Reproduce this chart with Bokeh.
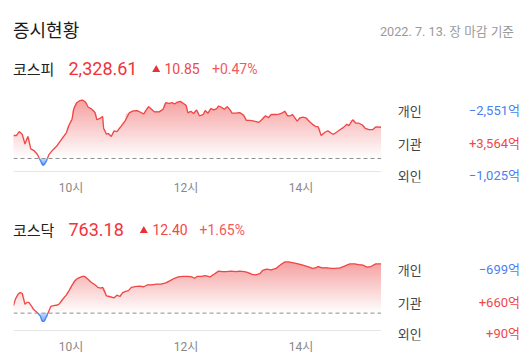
import numpy as np
from bokeh.plotting import figure
from bokeh.layouts import column, row
from bokeh.models import Range1d, FixedTicker, Span
from bokeh.core.properties import value
from bokeh.embed import file_html
from bokeh.resources import INLINE

# ---------------- data ----------------
title_text = "증시현황"
date_text = "2022. 7. 13. 장 마감 기준"
tick_minutes = [60, 180, 300]          # minutes after 09:00
tick_labels = ["10시", "12시", "14시"]
investors = ["개인", "기관", "외인"]

kospi_name = "코스피"
kospi_close = 2328.61
kospi_change = 10.85
kospi_pct = 0.47
kospi_prev = 2317.76
kospi_axis = [2313.19, 2340.36]
kospi_flows = [-2551, 3564, -1025]     # 억원
kospi_minutes = [0, 3, 6, 9, 12, 15, 18, 21, 25, 28,
                 31, 34, 37, 41, 45, 49, 53, 55, 58, 61,
                 63, 66, 69, 72, 75, 78, 81, 85, 87, 90,
                 93, 94, 97, 99, 102, 105, 108, 112, 116, 121,
                 125, 129, 133, 136, 138, 141, 144, 147, 152, 156,
                 159, 162, 166, 168, 171, 174, 177, 180, 182, 185,
                 188, 191, 194, 198, 200, 203, 206, 209, 212, 214,
                 217, 220, 223, 226, 228, 232, 236, 240, 243, 247,
                 251, 256, 259, 263, 266, 269, 273, 277, 280, 283,
                 286, 289, 291, 293, 296, 299, 302, 305, 309, 312,
                 315, 318, 321, 325, 328, 332, 334, 337, 341, 344,
                 348, 350, 354, 357, 360, 364, 367, 371, 375, 378,
                 384]
kospi_values = [2325.75, 2325.75, 2327.12, 2326.21, 2322.78, 2325.41, 2321.07, 2320.61, 2319.13, 2317.08,
                2315.36, 2316.62, 2319.13, 2320.73, 2321.98, 2323.92, 2325.75, 2326.55, 2329.40, 2331.34,
                2335.11, 2337.17, 2337.85, 2338.08, 2337.39, 2335.57, 2335.11, 2333.74, 2331.23, 2331.69,
                2332.37, 2328.26, 2326.21, 2326.44, 2325.41, 2327.35, 2327.12, 2328.83, 2330.55, 2333.74,
                2334.31, 2334.43, 2333.74, 2333.29, 2334.43, 2335.80, 2334.88, 2333.97, 2333.97, 2334.88,
                2337.17, 2336.94, 2337.17, 2336.71, 2337.39, 2337.62, 2336.94, 2336.25, 2333.63, 2334.20,
                2333.40, 2334.65, 2332.60, 2333.06, 2334.43, 2333.51, 2335.11, 2334.65, 2335.11, 2336.02,
                2335.57, 2334.88, 2335.80, 2334.65, 2333.51, 2333.51, 2333.74, 2332.83, 2331.00, 2331.00,
                2330.77, 2330.32, 2331.23, 2332.60, 2331.92, 2333.06, 2333.06, 2333.17, 2333.51, 2334.20,
                2332.60, 2332.60, 2333.06, 2332.14, 2330.77, 2331.92, 2332.14, 2331.92, 2330.55, 2329.63,
                2328.95, 2328.72, 2325.75, 2326.89, 2327.35, 2326.44, 2326.21, 2326.89, 2327.81, 2328.49,
                2329.63, 2329.18, 2331.23, 2330.09, 2330.09, 2329.40, 2328.26, 2327.81, 2327.81, 2328.72,
                2328.61]

kosdaq_name = "코스닥"
kosdaq_close = 763.18
kosdaq_change = 12.40
kosdaq_pct = 1.65
kosdaq_prev = 750.78
kosdaq_axis = [746.35, 765.80]
kosdaq_flows = [-699, 660, 90]
kosdaq_minutes = [0, 2, 5, 7, 9, 12, 14, 16, 19, 21,
                  25, 28, 30, 32, 34, 37, 39, 42, 46, 48,
                  51, 55, 58, 61, 64, 67, 72, 74, 78, 81,
                  85, 88, 91, 93, 97, 100, 105, 108, 111, 114,
                  117, 120, 123, 127, 131, 136, 140, 144, 149, 154,
                  159, 163, 168, 172, 177, 182, 186, 189, 192, 196,
                  200, 205, 210, 214, 218, 222, 227, 232, 236, 241,
                  244, 249, 253, 257, 260, 264, 269, 274, 278, 283,
                  287, 291, 297, 302, 307, 312, 315, 318, 322, 327,
                  332, 336, 341, 346, 351, 356, 360, 365, 369, 373,
                  378, 382, 384]
kosdaq_values = [752.67, 754.31, 755.62, 755.95, 755.79, 753.00, 753.49, 753.49, 752.50, 751.68,
                 750.86, 750.04, 748.73, 748.73, 749.71, 751.35, 752.50, 752.67, 752.83, 753.16,
                 754.15, 755.30, 756.45, 757.76, 758.91, 759.56, 760.06, 760.06, 759.24, 758.58,
                 757.92, 757.27, 757.10, 757.27, 755.13, 754.97, 754.64, 755.30, 754.97, 755.95,
                 756.28, 756.45, 757.27, 757.43, 757.59, 757.43, 757.92, 757.92, 758.09, 758.09,
                 758.42, 758.91, 759.56, 759.89, 760.06, 760.06, 759.89, 759.56, 760.06, 760.06,
                 760.22, 759.89, 760.71, 761.37, 761.21, 761.21, 761.37, 761.21, 761.37, 761.21,
                 761.04, 760.55, 760.39, 760.71, 761.54, 761.86, 761.70, 762.03, 762.85, 763.67,
                 763.67, 763.51, 763.18, 762.85, 762.52, 762.03, 762.19, 762.52, 762.19, 762.19,
                 762.03, 762.03, 762.19, 762.68, 763.18, 763.18, 763.01, 762.85, 762.36, 762.52,
                 763.18, 763.18, 763.18]

# ---------------- style ----------------
KR = "'Noto Sans CJK KR'"
NUM = "Roboto, 'Noto Sans CJK KR'"
RED = "#f2333b"
RED2 = "#f04848"
RED3 = "#f25a5a"
BLUE = "#4a7ff2"
DARK = "#222222"
LINE_RED = "#f04646"
LINE_BLUE = "#4a86f0"
W = 529
CHART_W = 381
PANEL_W = W - CHART_W
X_MAX = 384
GRID_H = 79          # pixels between the two horizontal grid lines


def text_fig(w, h, bottom=0):
    p = figure(width=w, height=h, x_range=Range1d(0, w), y_range=Range1d(h - bottom, 0),
               output_backend="svg", toolbar_location=None, min_border=0,
               min_border_bottom=bottom, x_axis_location=None, y_axis_location=None)
    p.grid.visible = False
    p.outline_line_color = None
    return p


def txt(p, x, y, s, size, color, font=NUM, align="left", style="normal"):
    p.text(x=[x], y=[y], text=[s], text_font=value(font), text_font_size=f"{size}px",
           text_color=color, text_align=align, text_baseline="middle", text_font_style=style)


def fmt_flow(v):
    sign = "+" if v > 0 else "\u2212"
    return f"{sign}{abs(v):,}억"


def header_fig(h, y, name, close, change, pct, tri_x, chg_x, pct_x, with_title=False):
    p = text_fig(W, h)
    if with_title:
        txt(p, 12.5, 28.5, title_text, 18, "#1a1a1a", font=KR)
        txt(p, 513.5, 31, date_text, 12.7, "#9a9a9a", align="right")
    txt(p, 12.5, y, name, 15, DARK, font=KR)
    txt(p, 68, y + 0.5, f"{close:,.2f}", 18, RED)
    p.scatter(x=[tri_x], y=[y + 1.5], marker="triangle",
              size=8, color="#e83232", line_color=None)
    txt(p, chg_x, y + 0.5, f"{change:.2f}", 14, RED2)
    txt(p, pct_x, y + 0.5, f"+{pct:.2f}%", 14, RED3)
    return p


def chart_fig(h, frame_h, minutes, values, prev, axis, standoff):
    lo, hi = axis
    extra = (frame_h - GRID_H) * (hi - lo) / GRID_H   # empty strip under the bottom grid line
    p = figure(width=CHART_W, height=h, x_range=Range1d(0, X_MAX),
               y_range=Range1d(lo - extra, hi),
               output_backend="svg", toolbar_location=None,
               min_border_left=13, min_border_right=0, min_border_top=0,
               min_border_bottom=h - frame_h, y_axis_location=None)
    p.outline_line_color = None
    p.xgrid.visible = False
    p.ygrid.ticker = FixedTicker(ticks=[lo, hi])
    p.ygrid.grid_line_color = "#e6e6e6"
    ax = p.xaxis[0]
    ax.ticker = FixedTicker(ticks=tick_minutes)
    ax.major_label_overrides = {m: l for m, l in zip(tick_minutes, tick_labels)}
    ax.axis_line_color = None
    ax.major_tick_line_color = None
    ax.minor_tick_line_color = None
    ax.major_tick_out = 0
    ax.major_tick_in = 0
    ax.major_label_standoff = standoff
    ax.major_label_text_font = NUM
    ax.major_label_text_font_size = "12px"
    ax.major_label_text_color = "#888888"

    x = np.asarray(minutes, dtype=float)
    v = np.asarray(values, dtype=float)
    # insert the crossings of the previous close so the colours switch exactly there
    xs, ys = [x[0]], [v[0]]
    for i in range(len(x) - 1):
        d0, d1 = v[i] - prev, v[i + 1] - prev
        if d0 * d1 < 0:
            t = d0 / (d0 - d1)
            xs.append(x[i] + t * (x[i + 1] - x[i]))
            ys.append(prev)
        xs.append(x[i + 1])
        ys.append(v[i + 1])
    xs = np.array(xs)
    ys = np.array(ys)
    up = np.maximum(ys, prev)
    dn = np.minimum(ys, prev)

    # red gradient fill (white at the previous close -> pink at the top)
    vmax = ys.max()
    n = 28
    top = np.array([245, 160, 160])
    for k in range(n):
        a = prev + k * (vmax - prev) / n
        f = (k + 0.5) / n
        c = np.round(255 + (top - 255) * f).astype(int)
        p.varea(x=xs, y1=np.full_like(xs, a), y2=np.maximum(up, a),
                fill_color="#%02x%02x%02x" % tuple(c))
    # blue gradient fill below the previous close
    vmin = ys.min()
    m = 8
    b0 = np.array([200, 218, 252])
    b1 = np.array([120, 164, 245])
    for k in range(m):
        b = prev - k * (prev - vmin) / m
        f = (k + 0.5) / m
        c = np.round(b0 + (b1 - b0) * f).astype(int)
        p.varea(x=xs, y1=np.minimum(dn, b), y2=np.full_like(xs, b),
                fill_color="#%02x%02x%02x" % tuple(c))

    p.add_layout(Span(location=prev, dimension="width", line_color="#8e8e8e",
                      line_width=1, line_dash="4 3"))
    red_line = np.where(ys >= prev, ys, np.nan)
    blue_line = np.where(ys <= prev, ys, np.nan)
    p.line(xs, red_line, line_color=LINE_RED, line_width=1.3)
    p.line(xs, blue_line, line_color=LINE_BLUE, line_width=1.3)
    return p


def panel_fig(h, frame_h, flows, ys):
    # the frame of this figure is aligned with the chart frame beside it (top = 0)
    p = text_fig(PANEL_W, h, bottom=h - frame_h)
    for lab, fv, y in zip(investors, flows, ys):
        txt(p, 16.3, y, lab, 13, "#444444", font=KR)
        txt(p, 138.5, y, fmt_flow(fv), 13, RED2 if fv > 0 else BLUE, align="right")
    return p


h1 = header_fig(93, 67.7, kospi_name, kospi_close, kospi_change, kospi_pct,
                155.7, 164, 211.5, with_title=True)
c1 = chart_fig(104, 90, kospi_minutes, kospi_values, kospi_prev, kospi_axis, -2)
p1 = panel_fig(104, 90, kospi_flows, [17, 50.3, 83])
h2 = header_fig(56, 31.7, kosdaq_name, kosdaq_close, kosdaq_change, kosdaq_pct,
                143.3, 152, 199)
c2 = chart_fig(103, 89, kosdaq_minutes, kosdaq_values, kosdaq_prev, kosdaq_axis, -1)
p2 = panel_fig(103, 89, kosdaq_flows, [16.5, 50, 82])

layout = column(h1, row(c1, p1, spacing=0), h2, row(c2, p2, spacing=0), spacing=0)

open("out.html", "w").write(file_html(layout, INLINE))
